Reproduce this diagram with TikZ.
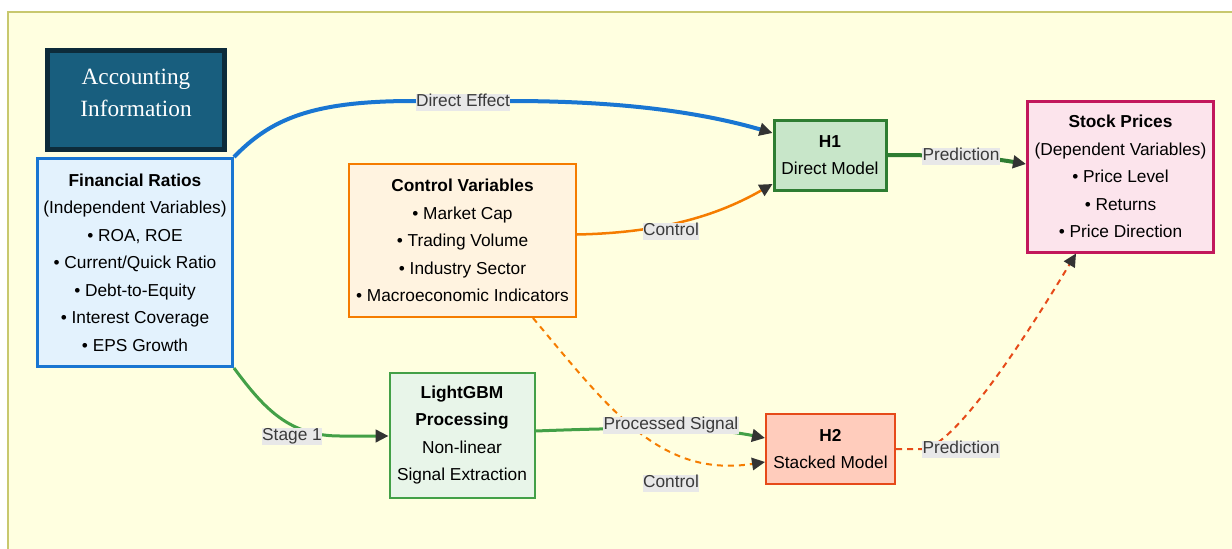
\documentclass[tikz,border=0pt]{standalone}
\usepackage{fontspec}
\setmainfont{Liberation Sans}
\newfontfamily\accfont{Liberation Serif}
\usetikzlibrary{arrows.meta}
\definecolor{bgyellow}{HTML}{FFFFE0}
\definecolor{bgborder}{HTML}{C8C86E}
\definecolor{accfill}{HTML}{185E7E}
\definecolor{accborder}{HTML}{0D2B3A}
\definecolor{finblue}{HTML}{1976D2}
\definecolor{finfill}{HTML}{E3F2FD}
\definecolor{ctrlorange}{HTML}{F57C00}
\definecolor{ctrlfill}{HTML}{FFF3E0}
\definecolor{hgreen}{HTML}{2E7D32}
\definecolor{hfill}{HTML}{C8E6C9}
\definecolor{stockred}{HTML}{C2185B}
\definecolor{stockfill}{HTML}{FCE4EC}
\definecolor{lgreen}{HTML}{43A047}
\definecolor{lfill}{HTML}{E8F5E9}
\definecolor{htwo}{HTML}{E64A19}
\definecolor{htwofill}{HTML}{FFCCBC}
\definecolor{tipgray}{HTML}{333333}
\definecolor{labelgray}{HTML}{E8E8E8}
\definecolor{labeltext}{HTML}{3A3A3A}
\begin{document}
\begin{tikzpicture}[x=1pt,y=-1pt,
  box/.style={draw, align=center, inner sep=0pt, text=black,
    font=\fontsize{17.3}{27.5}\selectfont},
  elabel/.style={fill=labelgray, text=labeltext, inner xsep=0.5pt, inner ysep=0.5pt,
    text height=12.5pt, text depth=3.5pt, font=\fontsize{17.3}{20}\selectfont},
  tip/.style={-{Triangle[length=13pt,width=12.5pt,color=tipgray]}},
  dashorange/.style={dash pattern=on 6pt off 5pt},
]
\useasboundingbox (0,0) rectangle (1232,549);
\fill[white] (0,0) rectangle (1232,549);
\draw[bgborder, line width=1.5pt, fill=bgyellow] (8,12) rectangle (1260,580);

% nodes
\node[draw=accborder, fill=accfill, line width=5pt, minimum width=177pt, minimum height=99pt] (acc) at (136,100) {};
\node[text=white, align=center, font=\accfont\fontsize{23.3}{32}\selectfont] (acct) at (136,93) {Accounting\\Information};

\node[box, draw=finblue, fill=finfill, line width=3pt, minimum width=195pt, minimum height=208pt] (fin) at (135,262.5)
  {\textbf{Financial Ratios}\\(Independent Variables)\\• ROA, ROE\\• Current/Quick Ratio\\• Debt-to-Equity\\• Interest Coverage\\• EPS Growth};

\node[box, draw=ctrlorange, fill=ctrlfill, line width=2pt, minimum width=227pt, minimum height=153pt] (ctrl) at (462.5,240.5)
  {\textbf{Control Variables}\\• Market Cap\\• Trading Volume\\• Industry Sector\\• Macroeconomic Indicators};

\node[box, draw=hgreen, fill=hfill, line width=3pt, minimum width=112pt, minimum height=70pt] (h1) at (830,155)
  {\textbf{H1}\\Direct Model};

\node[box, draw=stockred, fill=stockfill, line width=3pt, minimum width=186pt, minimum height=151pt] (stock) at (1120.5,176.5)
  {\textbf{Stock Prices}\\(Dependent Variables)\\• Price Level\\• Returns\\• Price Direction};

\node[box, draw=lgreen, fill=lfill, line width=2pt, minimum width=145pt, minimum height=125pt] (lgbm) at (462,435)
  {\textbf{LightGBM}\\\textbf{Processing}\\Non-linear\\Signal Extraction};

\node[box, draw=htwo, fill=htwofill, line width=2pt, minimum width=129pt, minimum height=70pt] (h2) at (830.5,449)
  {\textbf{H2}\\Stacked Model};

% connectors
\draw[tip, finblue, line width=4pt] (fin.north east) .. controls (270,120) and (310,101) .. (413,101)
  -- (510,101) .. controls (620,101) and (700,112) .. ([yshift=22pt]h1.west);

\draw[tip, hgreen, line width=4pt] (h1.east) .. controls (960,155) and (990,158) .. ([yshift=12.5pt]stock.west);

\draw[tip, ctrlorange, line width=2.5pt] ([yshift=6pt]ctrl.east) .. controls (650,233) and (710,220) .. ([yshift=-29pt]h1.west);

\draw[tip, lgreen, line width=3pt] (fin.south east) .. controls (265,410) and (290,436) .. (340,436) -- ([yshift=-1pt]lgbm.west);

\draw[tip, ctrlorange, line width=2pt, dashorange] ([xshift=70.5pt]ctrl.south) .. controls (610,410) and (660,478) .. ([yshift=-13pt]h2.west);

\draw[tip, lgreen, line width=3pt] ([yshift=4pt]lgbm.east) .. controls (640,427) and (710,427) .. ([yshift=11pt]h2.west);

\draw[tip, htwo, line width=2pt, dashorange] (h2.east) -- (925,449) .. controls (960,440) and (1030,330) .. ([xshift=-44.5pt]stock.south);

% connector labels
\node[elabel] (ldirect) at (463,102) {Direct Effect};
\node[elabel] (lpred1) at (961,156) {Prediction};
\node[elabel] (lctrl1) at (671,231) {Control};
\node[elabel] (lstage) at (292,436) {Stage 1};
\node[elabel] (lproc) at (671,425) {Processed Signal};
\node[elabel] (lctrl2) at (671,483) {Control};
\node[elabel] (lpred2) at (961,449) {Prediction};
\end{tikzpicture}
\end{document}
